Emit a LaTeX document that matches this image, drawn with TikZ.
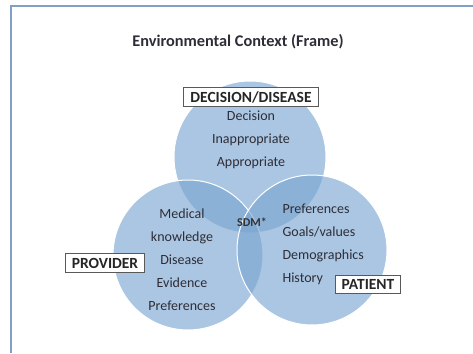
\documentclass[tikz,border=0pt]{standalone}
\usepackage{fontspec}
\setmainfont{Carlito}
\definecolor{vennblue}{RGB}{122,165,209}
\definecolor{framecol}{RGB}{128,160,200}
\definecolor{txtgray}{RGB}{45,45,55}

\begin{document}
\begin{tikzpicture}[x=1pt,y=-1pt,every node/.style={align=center,text=txtgray},
  venn/.style={fill=vennblue,fill opacity=0.63,draw=white,line width=1pt},
  tag/.style={draw=black!65,fill=white,font=\bfseries\fontsize{15.5}{17}\selectfont,text=black!85,inner xsep=6.5pt,inner ysep=4pt,line width=0.9pt},
  items/.style={font=\fontsize{14}{23}\selectfont}]
	\useasboundingbox (0,0) rectangle (473,353);
	% frame, only top and left edges fall inside
	\draw[framecol,line width=2pt] (473,6) -| (11,353);
	\node (title) at (238,42) {\bfseries\fontsize{16.3}{19}\selectfont Environmental Context (Frame)};
	% the three circles
	\draw[venn] (250,157) circle[radius=76];
	\draw[venn] (188,255) circle[radius=75];
	\draw[venn] (312,250) circle[radius=75];
	% contents
	\node[items] (decision) at (251,140) {Decision\\Inappropriate\\Appropriate};
	\node[items] (provider) at (182,259.5) {Medical\\knowledge\\Disease\\Evidence\\Preferences};
	\node[items,align=left,anchor=west] (patient) at (279,244.5) {Preferences\\Goals/values\\Demographics\\History};
	\node[font=\bfseries\fontsize{12}{14}\selectfont,text=black!80] (sdm) at (252,222) {SDM*};
	% labels
	\node[tag] (decisiontag) at (251,97) {DECISION/DISEASE};
	\node[tag] (providertag) at (105,263) {PROVIDER};
	\node[tag] (patienttag) at (368,284) {PATIENT};
\end{tikzpicture}
\end{document}
